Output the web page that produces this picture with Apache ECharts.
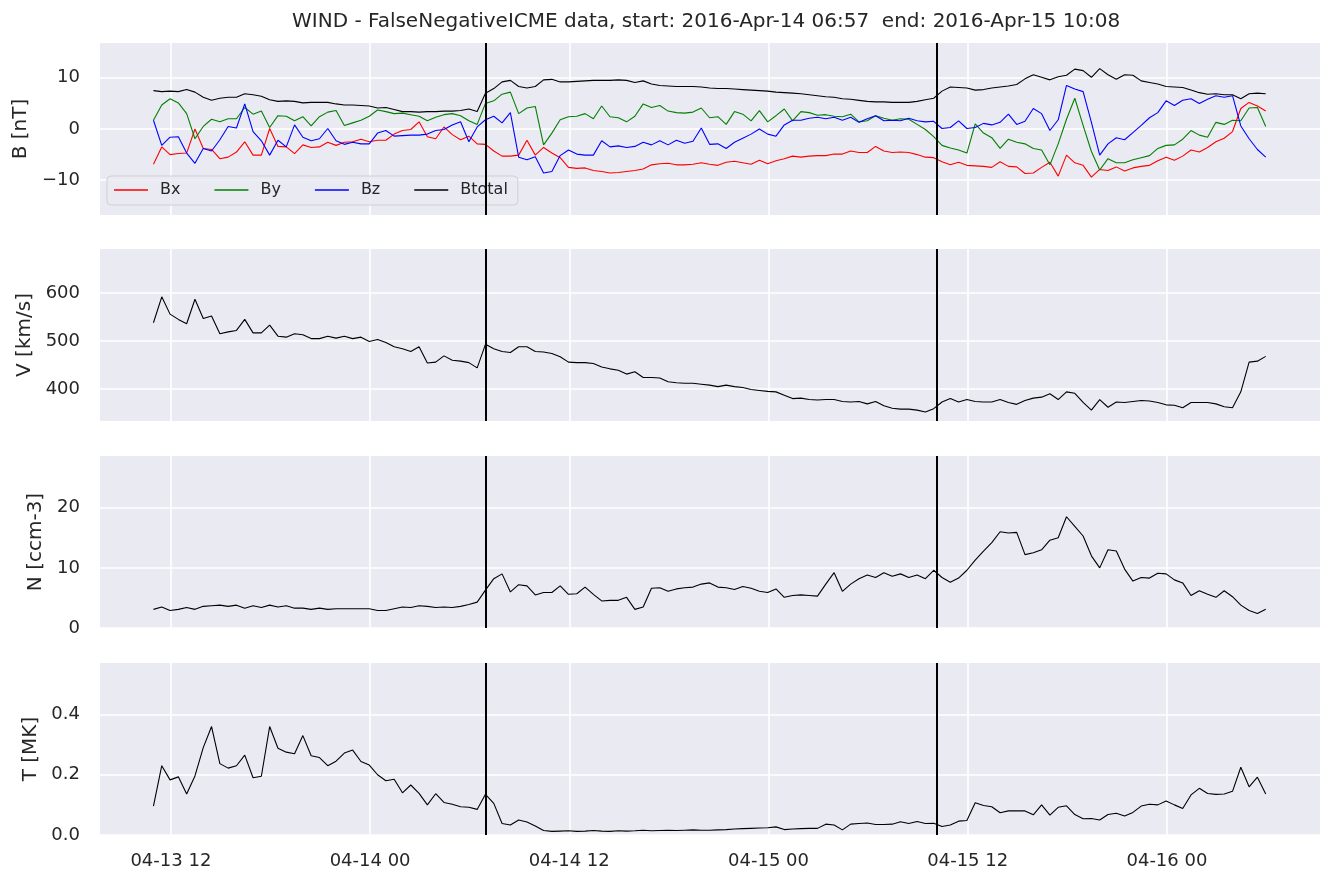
<!DOCTYPE html>
<html>
<head>
<meta charset="utf-8">
<script src="https://cdn.jsdelivr.net/npm/echarts@6/dist/echarts.min.js"></script>
<style>
  html, body { margin: 0; padding: 0; background: #ffffff; }
  #chart { width: 1336px; height: 886px; }
</style>
</head>
<body>
<div id="chart"></div>
<script>
// ---- time base: hours since 2016-04-13 00:00, 30-minute cadence ----
const startHour = 10.95;      // 2016-04-13 10:57
const stepHours = 0.5;
const icmeStartHour = 30.95;  // 2016-04-14 06:57
const icmeEndHour = 58.133;   // 2016-04-15 10:08
const xMinHour = 7.73;
const xMaxHour = 81.22;

const xTickHours = [12, 24, 36, 48, 60, 72];
const xTickLabels = ['04-13 12', '04-14 00', '04-14 12', '04-15 00', '04-15 12', '04-16 00'];

const bTicks = [-10, 0, 10];
const vTicks = [400, 500, 600];
const nTicks = [0, 10, 20];
const tTicks = [0, 0.2, 0.4];

const titleText = 'WIND - FalseNegativeICME data, start: 2016-Apr-14 06:57  end: 2016-Apr-15 10:08';
const legendNames = ['Bx', 'By', 'Bz', 'Btotal'];

// ---- series values ----
const Bx = [
  -6.9, -3.5, -5.0, -4.8, -4.7, 0.0, -3.8, -4.0, -5.8, -5.5,
  -4.5, -2.5, -5.1, -5.1, 0.1, -3.4, -3.5, -4.8, -3.1, -3.6,
  -3.5, -2.6, -3.2, -2.6, -2.5, -2.0, -2.5, -2.2, -2.2, -1.0,
  -0.3, -0.1, 1.4, -1.5, -1.9, 0.4, -1.1, -2.1, -1.4, -2.9,
  -3.0, -4.3, -5.3, -5.3, -5.1, -2.2, -5.1, -3.6, -4.7, -5.6,
  -7.5, -7.7, -7.6, -8.1, -8.3, -8.6, -8.5, -8.3, -8.1, -7.8,
  -7.0, -6.8, -6.7, -7.0, -7.0, -6.9, -6.6, -6.9, -7.1, -6.5,
  -6.3, -6.6, -6.9, -6.1, -6.8, -6.2, -5.8, -5.3, -5.5, -5.3,
  -5.2, -5.2, -4.9, -4.9, -4.3, -4.6, -4.6, -3.4, -4.3, -4.6,
  -4.5, -4.6, -5.0, -5.5, -5.6, -6.4, -7.0, -6.5, -7.1, -7.2,
  -7.3, -7.5, -6.4, -7.3, -7.4, -8.7, -8.6, -7.5, -6.5, -9.2,
  -5.1, -6.6, -7.1, -9.4, -7.9, -8.1, -7.4, -8.2, -7.6, -7.3,
  -7.1, -6.2, -5.5, -6.1, -5.3, -4.1, -4.5, -3.6, -2.5, -1.8,
  -0.5, 4.0, 5.2, 4.5, 3.5
];
const By = [
  1.7, 4.7, 5.9, 5.1, 3.0, -1.9, 0.5, 1.9, 1.4, 2.0,
  2.0, 4.2, 2.9, 3.5, 0.3, 2.6, 2.5, 1.6, 2.4, 0.6,
  2.4, 3.3, 3.6, 0.7, 1.2, 1.7, 2.5, 3.7, 3.4, 3.0,
  3.1, 2.8, 2.5, 1.6, 2.3, 2.8, 3.0, 2.6, 1.6, 0.9,
  5.0, 5.5, 6.8, 7.2, 3.0, 4.1, 4.4, -3.1, -0.8, 1.8,
  2.4, 2.5, 3.0, 2.0, 4.5, 2.4, 2.2, 1.4, 2.5, 4.9,
  4.2, 4.6, 3.5, 3.2, 3.1, 3.3, 4.1, 2.2, 2.4, 0.9,
  3.4, 2.9, 1.6, 3.6, 1.4, 2.6, 3.9, 1.6, 3.4, 3.2,
  2.7, 2.8, 2.5, 2.4, 2.9, 1.4, 1.6, 2.6, 2.1, 1.7,
  2.0, 1.9, 0.9, -0.1, -1.5, -3.2, -3.7, -4.1, -4.7, 1.0,
  -0.8, -1.7, -3.8, -2.0, -2.6, -2.9, -3.8, -4.1, -7.0, -2.9,
  1.9, 6.0, 0.7, -4.4, -8.0, -5.8, -6.6, -6.6, -6.0, -5.6,
  -5.2, -3.8, -3.2, -3.1, -2.0, -0.3, -1.2, -1.6, 1.3, 0.9,
  1.7, 1.6, 4.1, 4.2, 0.5
];
const Bz = [
  1.7, -3.2, -1.6, -1.5, -4.7, -6.7, -3.8, -4.3, -2.1, 0.5,
  0.2, 4.9, -0.5, -2.3, -5.1, -2.2, -3.5, 0.8, -1.6, -2.3,
  -1.9, 0.1, -2.3, -3.0, -2.6, -2.9, -2.9, -0.8, -0.3, -1.4,
  -1.3, -1.2, -1.2, -1.0, -0.3, -0.1, 0.8, 1.4, -2.5, 0.4,
  1.8, 2.5, 1.2, 3.2, -5.5, -6.0, -5.4, -8.6, -8.3, -5.2,
  -4.1, -4.9, -5.1, -5.1, -2.3, -3.5, -3.3, -3.6, -3.4, -2.6,
  -3.1, -2.3, -3.1, -2.2, -2.8, -2.4, 0.2, -3.0, -2.9, -3.8,
  -2.6, -1.8, -1.0, 0.0, -1.0, -1.4, 0.8, 1.7, 1.7, 2.1,
  2.3, 2.0, 2.3, 1.7, 2.3, 1.3, 2.0, 2.6, 1.6, 1.7,
  1.6, 2.1, 1.6, 1.4, 1.5, 0.1, 0.3, 1.6, 0.1, 0.3,
  1.1, 0.8, 1.3, 2.9, 0.9, 1.5, 4.0, 3.0, -0.3, 1.8,
  8.5, 7.8, 7.3, 1.3, -5.1, -2.9, -1.7, -2.1, -0.7, 0.7,
  2.2, 3.2, 5.5, 4.6, 5.6, 5.9, 5.0, 5.8, 6.5, 6.2,
  6.5, 0.6, -1.9, -4.0, -5.5
];
const Btotal = [
  7.5, 7.3, 7.4, 7.3, 7.7, 7.2, 6.2, 5.6, 6.0, 6.2,
  6.2, 6.9, 6.7, 6.4, 5.7, 5.4, 5.5, 5.4, 5.1, 5.2,
  5.2, 5.2, 4.9, 4.7, 4.7, 4.6, 4.5, 4.1, 4.2, 3.8,
  3.4, 3.4, 3.3, 3.4, 3.4, 3.5, 3.5, 3.6, 3.9, 3.4,
  7.0, 7.9, 9.2, 9.5, 8.3, 8.0, 8.3, 9.6, 9.7, 9.2,
  9.2, 9.3, 9.4, 9.5, 9.5, 9.5, 9.6, 9.5, 9.1, 9.4,
  8.8, 8.5, 8.4, 8.3, 8.3, 8.3, 8.2, 8.0, 7.9, 7.9,
  7.8, 7.7, 7.6, 7.5, 7.4, 7.2, 7.1, 7.0, 6.9, 6.7,
  6.5, 6.3, 6.2, 5.9, 5.8, 5.6, 5.4, 5.3, 5.3, 5.2,
  5.2, 5.2, 5.4, 5.7, 6.0, 7.4, 8.2, 8.1, 8.0, 7.6,
  7.7, 8.0, 8.2, 8.4, 8.7, 9.8, 10.6, 10.1, 9.6, 10.2,
  10.5, 11.7, 11.4, 10.1, 11.8, 10.6, 9.7, 10.6, 10.5, 9.4,
  9.1, 8.8, 8.3, 8.2, 8.1, 7.6, 7.1, 6.8, 6.9, 6.7,
  6.7, 5.9, 6.9, 7.0, 6.9
];
const V = [
  538, 592, 556, 545, 536, 587, 547, 552, 515, 519,
  522, 545, 517, 517, 533, 510, 508, 515, 513, 505,
  505, 510, 506, 510, 505, 508, 499, 503, 497, 488,
  484, 478, 488, 454, 456, 469, 460, 458, 455, 444,
  493, 484, 478, 476, 488, 488, 478, 477, 474, 467,
  456, 455, 455, 453, 446, 442, 439, 431, 436, 424,
  424, 423, 415, 413, 412, 412, 410, 408, 405, 408,
  405, 403, 399, 397, 395, 394, 387, 380, 381, 378,
  377, 378, 378, 374, 373, 374, 369, 374, 365, 360,
  358, 358, 356, 352, 359, 373, 380, 373, 378, 374,
  373, 373, 378, 372, 368, 376, 381, 383, 390, 378,
  394, 391, 372, 356, 378, 362, 373, 372, 374, 376,
  375, 372, 367, 366, 361, 372, 372, 372, 369, 363,
  361, 394, 456, 458, 468
];
const N = [
  3.1, 3.5, 2.9, 3.1, 3.4, 3.1, 3.6, 3.7, 3.8, 3.6,
  3.8, 3.3, 3.7, 3.4, 3.8, 3.5, 3.7, 3.3, 3.3, 3.1,
  3.3, 3.1, 3.2, 3.2, 3.2, 3.2, 3.2, 2.9, 2.9, 3.2,
  3.5, 3.4, 3.7, 3.6, 3.4, 3.5, 3.4, 3.6, 3.9, 4.3,
  6.3, 8.2, 9.0, 6.0, 7.2, 7.0, 5.5, 5.9, 5.9, 7.0,
  5.6, 5.7, 6.8, 5.6, 4.5, 4.6, 4.6, 5.1, 3.1, 3.5,
  6.6, 6.7, 6.1, 6.5, 6.7, 6.8, 7.3, 7.5, 6.8, 6.7,
  6.4, 6.9, 6.6, 6.1, 5.9, 6.5, 5.1, 5.4, 5.5, 5.4,
  5.3, 7.3, 9.2, 6.1, 7.3, 8.2, 8.8, 8.4, 9.2, 8.6,
  9.0, 8.4, 8.8, 8.2, 9.6, 8.4, 7.6, 8.3, 9.6, 11.3,
  12.8, 14.2, 16.0, 15.8, 15.9, 12.2, 12.5, 13.0, 14.6, 15.0,
  18.5, 16.9, 15.3, 12.0, 10.0, 13.0, 12.8, 9.8, 7.8, 8.4,
  8.3, 9.1, 9.0, 8.0, 7.5, 5.4, 6.2, 5.6, 5.1, 6.2,
  5.2, 3.8, 2.9, 2.4, 3.1
];
const T = [
  0.096, 0.23, 0.183, 0.193, 0.136, 0.196, 0.29, 0.36, 0.237, 0.222,
  0.23, 0.265, 0.19, 0.195, 0.36, 0.288, 0.275, 0.27, 0.33, 0.263,
  0.257, 0.23, 0.245, 0.272, 0.282, 0.244, 0.232, 0.2, 0.18, 0.185,
  0.14, 0.166, 0.138, 0.1, 0.137, 0.108, 0.102, 0.094, 0.092, 0.085,
  0.135, 0.105, 0.038, 0.033, 0.05, 0.043, 0.03, 0.015, 0.012, 0.013,
  0.014, 0.012, 0.013, 0.015, 0.013, 0.012, 0.014, 0.013, 0.014, 0.016,
  0.014, 0.015, 0.016, 0.015, 0.016, 0.017, 0.016, 0.016, 0.017, 0.018,
  0.02, 0.021, 0.022, 0.023, 0.024, 0.027, 0.018, 0.02, 0.021, 0.022,
  0.022, 0.036, 0.033, 0.017, 0.036, 0.038, 0.04, 0.035, 0.035, 0.036,
  0.044, 0.038, 0.045, 0.038, 0.039, 0.028, 0.033, 0.046, 0.048, 0.107,
  0.098, 0.094, 0.074, 0.08, 0.08, 0.08, 0.067, 0.1, 0.066, 0.092,
  0.097, 0.068, 0.054, 0.055, 0.05, 0.068, 0.072, 0.063, 0.075, 0.096,
  0.102, 0.1, 0.113, 0.1, 0.088, 0.133, 0.155, 0.138, 0.135, 0.136,
  0.145, 0.225, 0.16, 0.192, 0.136
];

// ---- build chart ----
const FONT = 'DejaVu Sans';
const TXT = '#262626';
const pair = arr => arr.map((v, i) => [startHour + i * stepHours, v]);

const gridTops = [43, 249, 456, 663];
const grids = gridTops.map(top => ({
  left: 100, right: 16, top: top, height: 172,
  show: true, backgroundColor: '#EAEAF2', borderWidth: 0
}));

const xAxes = gridTops.map((_, gi) => ({
  type: 'value', gridIndex: gi, min: xMinHour, max: xMaxHour,
  axisLine: { show: false },
  axisTick: { show: false, customValues: xTickHours },
  axisLabel: {
    show: gi === 3, customValues: xTickHours, margin: 17,
    fontSize: 18, color: TXT, fontFamily: FONT,
    formatter: v => { const k = xTickHours.indexOf(Math.round(v)); return k >= 0 ? xTickLabels[k] : ''; }
  },
  splitLine: { show: true, lineStyle: { color: '#ffffff', width: 1.6 } }
}));

const minus = v => (v < 0 ? '\u2212' : '') + Math.abs(v);
const yDefs = [
  { name: 'B [nT]', min: -16.8, max: 16.8, ticks: bTicks, fmt: minus, gap: 63 },
  { name: 'V [km/s]', min: 333.3, max: 691.7, ticks: vTicks, fmt: v => String(v), gap: 59 },
  { name: 'N [ccm-3]', min: 0, max: 28.6, ticks: nTicks, fmt: v => String(v), gap: 48 },
  { name: 'T [MK]', min: 0, max: 0.571, ticks: tTicks, fmt: v => v.toFixed(1), gap: 53 }
];
const yAxes = yDefs.map((d, gi) => ({
  type: 'value', gridIndex: gi, min: d.min, max: d.max,
  name: d.name, nameLocation: 'middle', nameGap: d.gap,
  nameTextStyle: { fontSize: 20, color: TXT, fontFamily: FONT },
  axisLine: { show: false },
  axisTick: { show: false, customValues: d.ticks },
  axisLabel: { customValues: d.ticks, margin: 20, fontSize: 18, color: TXT, fontFamily: FONT, formatter: d.fmt },
  splitLine: { show: true, lineStyle: { color: '#ffffff', width: 1.6 } }
}));

const boundaryLines = {
  silent: true, symbol: ['none', 'none'], animation: false,
  label: { show: false },
  lineStyle: { color: '#000000', width: 2, type: 'solid' },
  data: [{ xAxis: icmeStartHour }, { xAxis: icmeEndHour }]
};

function lineSeries(name, arr, color, gi, withBounds) {
  const s = {
    name: name, type: 'line', xAxisIndex: gi, yAxisIndex: gi,
    data: pair(arr), symbol: 'none', showSymbol: false, color: color,
    lineStyle: { color: color, width: 1.1 }, animation: false, clip: true
  };
  if (withBounds) s.markLine = boundaryLines;
  return s;
}

const series = [
  lineSeries('Bx', Bx, '#ff0000', 0, false),
  lineSeries('By', By, '#008000', 0, false),
  lineSeries('Bz', Bz, '#0000ff', 0, false),
  lineSeries('Btotal', Btotal, '#000000', 0, true),
  lineSeries('V', V, '#000000', 1, true),
  lineSeries('N', N, '#000000', 2, true),
  lineSeries('T', T, '#000000', 3, true)
];

const chart = echarts.init(document.getElementById('chart'), null, { renderer: 'canvas' });
chart.setOption({
  animation: false,
  backgroundColor: '#ffffff',
  title: {
    text: titleText, left: 292, top: 12, padding: 0,
    textStyle: { fontSize: 20, fontWeight: 'normal', color: TXT, fontFamily: FONT }
  },
  legend: {
    data: legendNames, left: 107, top: 176, orient: 'horizontal',
    icon: 'rect', itemWidth: 34, itemHeight: 1.5, itemGap: 34,
    padding: [6, 10, 7, 7],
    backgroundColor: 'rgba(234,234,242,0.8)', borderColor: '#cfcfd4', borderWidth: 1, borderRadius: 4,
    textStyle: { fontSize: 16, color: TXT, fontFamily: FONT, padding: [0, 0, 0, 7] },
    selectedMode: false
  },
  grid: grids,
  xAxis: xAxes,
  yAxis: yAxes,
  series: series
});
</script>
</body>
</html>
